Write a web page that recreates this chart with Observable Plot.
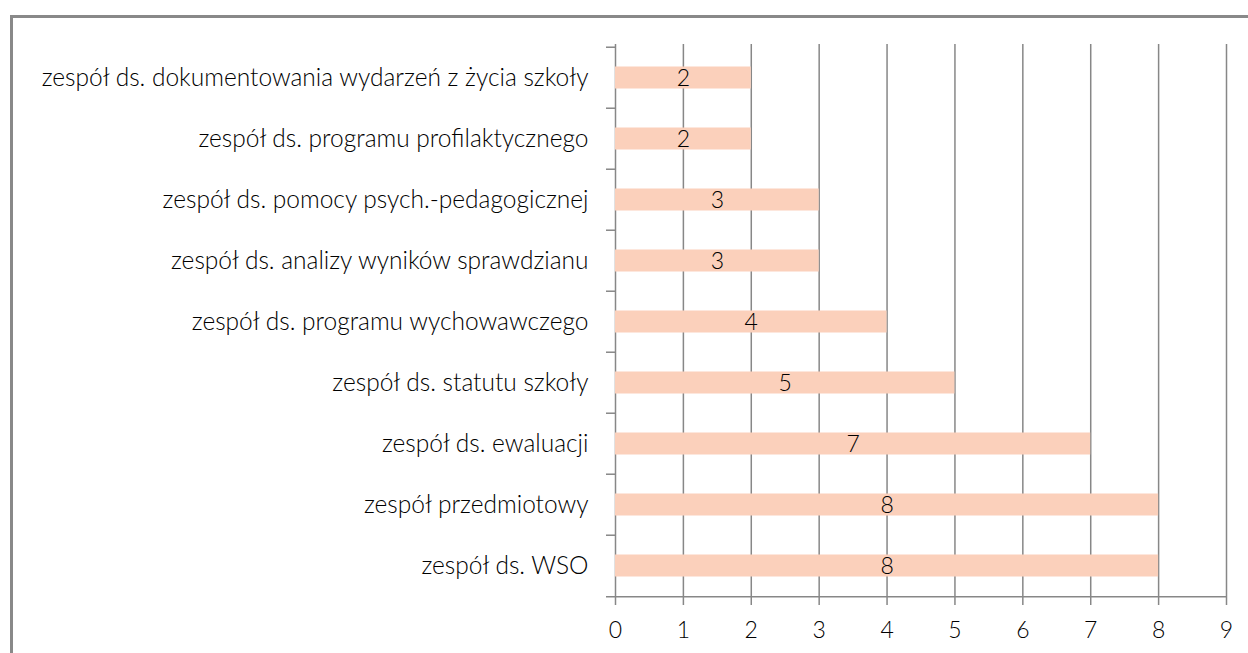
<!DOCTYPE html>
<html>
<head>
<meta charset="utf-8">
<script src="https://cdn.jsdelivr.net/npm/d3@7"></script>
<script src="https://cdn.jsdelivr.net/npm/@observablehq/plot@0.6"></script>
<style>
  html, body { margin: 0; padding: 0; background: #fff; overflow: hidden; }
  #wrap { position: relative; width: 1248px; height: 653px; }
  #frame { position: absolute; left: 10px; top: 15px; width: 1300px; height: 700px;
           border-left: 3px solid #898989; border-top: 3px solid #898989; }
  #chart { position: absolute; left: 0; top: 0; }
</style>
</head>
<body>
<div id="wrap"><div id="frame"></div><div id="chart"></div></div>
<script>
const categories = [
  "zespół ds. dokumentowania wydarzeń z życia szkoły",
  "zespół ds. programu profilaktycznego",
  "zespół ds. pomocy psych.-pedagogicznej",
  "zespół ds. analizy wyników sprawdzianu",
  "zespół ds. programu wychowawczego",
  "zespół ds. statutu szkoły",
  "zespół ds. ewaluacji",
  "zespół przedmiotowy",
  "zespół ds. WSO"
];
const values = [2, 2, 3, 3, 4, 5, 7, 8, 8];
const xTicks = [0, 1, 2, 3, 4, 5, 6, 7, 8, 9];

const data = categories.map((c, i) => ({category: c, value: values[i]}));

const W = 1248, H = 653;
const mt = 44, mb = 55, ml = 615, mr = 22;
const bw = (H - mt - mb) / categories.length;
const unit = (W - ml - mr) / 9;
const tickLen = 9 / unit;
const font = "Lato, 'Open Sans', sans-serif";
const gridColor = "#878787";

const chart = Plot.plot({
  width: W,
  height: H,
  marginTop: mt,
  marginBottom: mb,
  marginLeft: ml,
  marginRight: mr,
  style: {fontFamily: font, background: "transparent", color: "#000"},
  x: {domain: [0, 9]},
  y: {domain: categories, padding: 0},
  marks: [
    Plot.ruleX(xTicks.slice(1), {stroke: gridColor, strokeWidth: 1.5}),
    Plot.ruleX([0], {stroke: gridColor, strokeWidth: 1.5}),
    Plot.barX(data, {x: "value", y: "category", fill: "#FBD0BB", insetTop: 19.5, insetBottom: 19.5}),
    Plot.text(data, {x: d => d.value / 2, y: "category", text: d => String(d.value), fontSize: 23, fontWeight: 300, dy: 1, fill: "#000"}),
    Plot.ruleY(categories, {y: d => d, x1: -tickLen, x2: 0, dy: -bw / 2, stroke: gridColor, strokeWidth: 1.5}),
    Plot.ruleY([categories[categories.length - 1]], {y: d => d, x1: -tickLen, x2: 9, dy: bw / 2, stroke: gridColor, strokeWidth: 1.5}),
    Plot.axisX({ticks: xTicks, tickSize: 7, tickPadding: 16, fontSize: 23, fontWeight: 300, stroke: gridColor, strokeWidth: 1.5, tickFormat: d => String(d), label: null, color: "#000"}),
    Plot.axisY({tickSize: 0, tickPadding: 27, fontSize: 24.5, label: null, color: "#000", fontWeight: 300})
  ]
});
document.getElementById("chart").appendChild(chart);
</script>
</body>
</html>
